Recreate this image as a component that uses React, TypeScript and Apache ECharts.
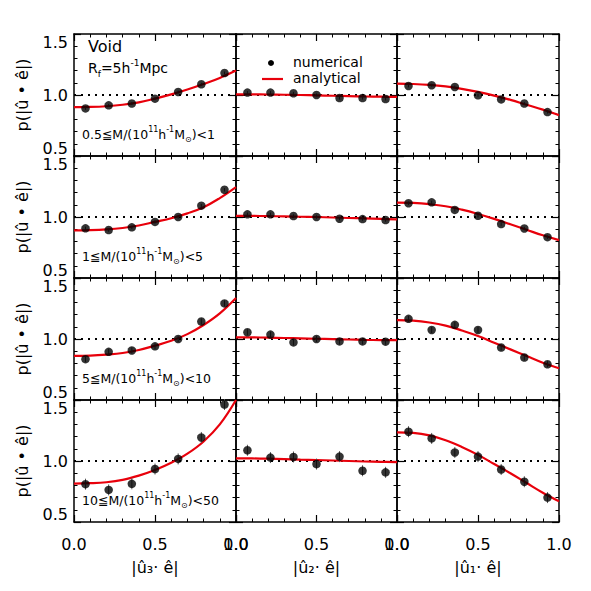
import React, { useEffect, useRef } from "react";
import * as echarts from "echarts";

// x positions of the numerical bins
const xBins = [0.071, 0.214, 0.357, 0.5, 0.643, 0.786, 0.929];
// x positions of the analytical curve samples
const xCurve = [0, 0.1, 0.2, 0.3, 0.4, 0.5, 0.6, 0.7, 0.8, 0.9, 1.0];

// Row 1 : 0.5 <= M < 1
const num1U3 = [0.89, 0.915, 0.93, 0.97, 1.025, 1.088, 1.18];
const ana1U3 = [0.9, 0.902, 0.908, 0.92, 0.94, 0.97, 1.005, 1.045, 1.09, 1.14, 1.2];
const num1U2 = [1.02, 1.02, 1.014, 1.0, 0.975, 0.975, 0.967];
const ana1U2 = [1.005, 1.005, 1.004, 1.002, 1.0, 0.997, 0.994, 0.991, 0.988, 0.986, 0.984];
const num1U1 = [1.074, 1.08, 1.066, 0.997, 0.964, 0.93, 0.86];
const ana1U1 = [1.093, 1.09, 1.083, 1.07, 1.05, 1.025, 0.995, 0.96, 0.92, 0.88, 0.835];
const err1 = [0.012, 0.012, 0.012, 0.012, 0.012, 0.012, 0.012];

// Row 2 : 1 <= M < 5
const num2U3 = [0.907, 0.893, 0.915, 0.96, 1.0, 1.093, 1.223];
const ana2U3 = [0.89, 0.892, 0.898, 0.91, 0.93, 0.96, 0.99, 1.03, 1.08, 1.155, 1.245];
const num2U2 = [1.022, 1.022, 1.008, 1.0, 0.986, 0.983, 0.975];
const ana2U2 = [1.01, 1.009, 1.007, 1.005, 1.002, 1.0, 0.996, 0.992, 0.988, 0.984, 0.98];
const num2U1 = [1.113, 1.12, 1.058, 1.01, 0.942, 0.906, 0.835];
const ana2U1 = [1.118, 1.115, 1.105, 1.088, 1.06, 1.025, 0.985, 0.94, 0.895, 0.85, 0.81];
const err2 = [0.014, 0.014, 0.014, 0.014, 0.014, 0.014, 0.014];

// Row 3 : 5 <= M < 10
const num3U3 = [0.835, 0.895, 0.906, 0.94, 1.0, 1.143, 1.292];
const ana3U3 = [0.862, 0.864, 0.872, 0.885, 0.91, 0.945, 0.985, 1.04, 1.115, 1.21, 1.336];
const num3U2 = [1.055, 1.036, 0.972, 1.0, 0.98, 0.98, 0.978];
const ana3U2 = [1.014, 1.013, 1.011, 1.008, 1.005, 1.002, 0.999, 0.996, 0.993, 0.991, 0.99];
const num3U1 = [1.165, 1.074, 1.116, 1.074, 0.93, 0.848, 0.793];
const ana3U1 = [1.154, 1.15, 1.135, 1.11, 1.07, 1.025, 0.97, 0.915, 0.86, 0.805, 0.76];
const err3 = [0.025, 0.025, 0.025, 0.025, 0.025, 0.025, 0.025];

// Row 4 : 10 <= M < 50
const num4U3 = [0.81, 0.763, 0.813, 0.934, 1.017, 1.193, 1.463];
const ana4U3 = [0.815, 0.818, 0.826, 0.845, 0.88, 0.926, 0.985, 1.06, 1.16, 1.3, 1.5];
const num4U2 = [1.088, 1.028, 1.033, 0.975, 1.036, 0.92, 0.907];
const ana4U2 = [1.022, 1.021, 1.019, 1.016, 1.012, 1.008, 1.004, 1.0, 0.996, 0.993, 0.99];
const num4U1 = [1.24, 1.185, 1.07, 1.036, 0.93, 0.83, 0.7];
const ana4U1 = [1.234, 1.23, 1.21, 1.17, 1.115, 1.05, 0.975, 0.9, 0.82, 0.74, 0.67];
const err4 = [0.045, 0.045, 0.045, 0.045, 0.045, 0.045, 0.045];

const massLow = ["0.5", "1", "5", "10"];
const massHigh = ["1", "5", "10", "50"];
const xTitles = ["|û₃· ê|", "|û₂· ê|", "|û₁· ê|"];
const yTitle = "p(|û • ê|)";
const xTickValues = [0, 0.5, 1];
const yRange = [0.5, 1.5];

const panels = [
  [
    { num: num1U3, ana: ana1U3, err: err1 },
    { num: num1U2, ana: ana1U2, err: err1 },
    { num: num1U1, ana: ana1U1, err: err1 },
  ],
  [
    { num: num2U3, ana: ana2U3, err: err2 },
    { num: num2U2, ana: ana2U2, err: err2 },
    { num: num2U1, ana: ana2U1, err: err2 },
  ],
  [
    { num: num3U3, ana: ana3U3, err: err3 },
    { num: num3U2, ana: ana3U2, err: err3 },
    { num: num3U1, ana: ana3U1, err: err3 },
  ],
  [
    { num: num4U3, ana: ana4U3, err: err4 },
    { num: num4U2, ana: ana4U2, err: err4 },
    { num: num4U1, ana: ana4U1, err: err4 },
  ],
];

const FONT = "DejaVu Sans";
const colLeft = [74, 236, 397];
const colWidth = [162, 161, 162];
const rowTop = [34, 156, 278, 400];
const rowHeight = 122;

export default function App() {
  const ref = useRef<HTMLDivElement>(null);

  useEffect(() => {
    if (!ref.current) return;
    const chart = echarts.init(ref.current, null, { renderer: "svg" });

    const grids: any[] = [];
    const xAxes: any[] = [];
    const yAxes: any[] = [];
    const series: any[] = [];
    const graphics: any[] = [];

    const axisLineStyle = { color: "#000", width: 1.5 };
    let gi = 0;
    for (let r = 0; r < 4; r++) {
      for (let c = 0; c < 3; c++) {
        grids.push({
          left: colLeft[c],
          top: rowTop[r],
          width: colWidth[c],
          height: rowHeight,
        });
        const xBase = {
          type: "value",
          gridIndex: gi,
          min: xTickValues[0],
          max: xTickValues[2],
          interval: 0.5,
          axisLine: { show: true, onZero: false, lineStyle: axisLineStyle },
          axisTick: { show: true, inside: true, length: 7, lineStyle: { color: "#000", width: 1.2 } },
          minorTick: { show: true, splitNumber: 5, length: 3.5, lineStyle: { color: "#000", width: 1 } },
          splitLine: { show: false },
          minorSplitLine: { show: false },
        };
        xAxes.push({
          ...xBase,
          position: "bottom",
          axisLabel: {
            show: r === 3,
            fontFamily: FONT,
            fontSize: 16,
            color: "#000",
            margin: 14,
            showMinLabel: true,
            showMaxLabel: true,
            hideOverlap: false,
            formatter: (v: number) => v.toFixed(1),
          },
        });
        xAxes.push({ ...xBase, position: "top", axisLabel: { show: false } });
        const yBase = {
          type: "value",
          gridIndex: gi,
          min: yRange[0],
          max: yRange[1],
          interval: 0.5,
          axisLine: { show: true, onZero: false, lineStyle: axisLineStyle },
          axisTick: { show: true, inside: true, length: 7, lineStyle: { color: "#000", width: 1.2 } },
          minorTick: { show: true, splitNumber: 5, length: 3.5, lineStyle: { color: "#000", width: 1 } },
          splitLine: { show: false },
          minorSplitLine: { show: false },
        };
        yAxes.push({
          ...yBase,
          position: "left",
          axisLabel: {
            show: c === 0,
            fontFamily: FONT,
            fontSize: 16,
            color: "#000",
            margin: 6,
            showMinLabel: true,
            showMaxLabel: true,
            verticalAlignMinLabel: "bottom",
            verticalAlignMaxLabel: "top",
            formatter: (v: number) => v.toFixed(1),
          },
        });
        yAxes.push({ ...yBase, position: "right", axisLabel: { show: false } });

        const p = panels[r][c];
        const xi = gi * 2;
        const yi = gi * 2;
        // dotted reference line at 1
        series.push({
          type: "line",
          xAxisIndex: xi,
          yAxisIndex: yi,
          data: [
            [xTickValues[0], 1],
            [xTickValues[2], 1],
          ],
          symbol: "none",
          lineStyle: { color: "#000", width: 2, type: [2, 5] },
          silent: true,
          z: 1,
        });
        // analytical curve
        series.push({
          type: "line",
          xAxisIndex: xi,
          yAxisIndex: yi,
          data: xCurve.map((x, k) => [x, p.ana[k]]),
          symbol: "none",
          smooth: 0.4,
          clip: true,
          lineStyle: { color: "#e8000b", width: 2.2 },
          z: 2,
        });
        // error bars
        series.push({
          type: "custom",
          xAxisIndex: xi,
          yAxisIndex: yi,
          data: xBins.map((x, k) => [x, p.num[k], p.err[k]]),
          renderItem: (params: any, api: any) => {
            const x = api.value(0);
            const y = api.value(1);
            const e = api.value(2);
            const a = api.coord([x, y - e]);
            const b = api.coord([x, y + e]);
            return {
              type: "line",
              shape: { x1: a[0], y1: a[1], x2: b[0], y2: b[1] },
              style: { stroke: "#555", lineWidth: 1 },
            };
          },
          z: 3,
        });
        // numerical points
        series.push({
          type: "scatter",
          xAxisIndex: xi,
          yAxisIndex: yi,
          data: xBins.map((x, k) => [x, p.num[k]]),
          symbol: "circle",
          symbolSize: 8.5,
          itemStyle: { color: "#000" },
          z: 4,
        });
        gi++;
      }
    }

    // mass-bin labels
    const richStyles = {
      a: { fontFamily: FONT, fontSize: 12.5, color: "#000", lineHeight: 18 },
      s: { fontFamily: FONT, fontSize: 8, color: "#000", verticalAlign: "top", lineHeight: 10 },
      b: { fontFamily: FONT, fontSize: 8, color: "#000", verticalAlign: "bottom", lineHeight: 10 },
    };
    for (let r = 0; r < 4; r++) {
      graphics.push({
        type: "text",
        left: 82,
        top: rowTop[r] + 91,
        style: {
          text: `{a|${massLow[r]}≦M/(10}{s|11}{a|h}{s|-1}{a|M}{b|⊙}{a|)<${massHigh[r]}}`,
          rich: richStyles,
        },
      });
      // y-axis title
      graphics.push({
        type: "text",
        x: 22,
        y: rowTop[r] + rowHeight / 2,
        rotation: Math.PI / 2,
        style: {
          text: yTitle,
          fontFamily: FONT,
          fontSize: 16,
          fill: "#000",
          align: "center",
          verticalAlign: "middle",
        },
      });
    }
    // x-axis titles
    for (let c = 0; c < 3; c++) {
      graphics.push({
        type: "text",
        x: colLeft[c] + colWidth[c] / 2,
        y: 567,
        style: {
          text: xTitles[c],
          fontFamily: FONT,
          fontSize: 16,
          fill: "#000",
          align: "center",
          verticalAlign: "middle",
        },
      });
    }
    // Void and R_f labels
    graphics.push({
      type: "text",
      x: 88,
      y: 46,
      style: { text: "Void", fontFamily: FONT, fontSize: 16, fill: "#000", verticalAlign: "middle" },
    });
    graphics.push({
      type: "text",
      left: 88,
      top: 58,
      style: {
        text: "{a|R}{b|f}{a|=5h}{s|-1}{a|Mpc}",
        rich: {
          a: { fontFamily: FONT, fontSize: 14, color: "#000", lineHeight: 20 },
          s: { fontFamily: FONT, fontSize: 9, color: "#000", verticalAlign: "top", lineHeight: 11 },
          b: { fontFamily: FONT, fontSize: 9, color: "#000", verticalAlign: "bottom", lineHeight: 11 },
        },
      },
    });
    // legend
    graphics.push({
      type: "circle",
      shape: { cx: 271, cy: 63, r: 3 },
      style: { fill: "#000" },
    });
    graphics.push({
      type: "text",
      x: 293,
      y: 62,
      style: { text: "numerical", fontFamily: FONT, fontSize: 14, fill: "#000", verticalAlign: "middle" },
    });
    graphics.push({
      type: "line",
      shape: { x1: 262, y1: 79, x2: 283, y2: 79 },
      style: { stroke: "#e8000b", lineWidth: 2.2 },
    });
    graphics.push({
      type: "text",
      x: 293,
      y: 78,
      style: { text: "analytical", fontFamily: FONT, fontSize: 14, fill: "#000", verticalAlign: "middle" },
    });

    chart.setOption({
      animation: false,
      backgroundColor: "#fff",
      grid: grids,
      xAxis: xAxes,
      yAxis: yAxes,
      series,
      graphic: graphics,
    });
    return () => chart.dispose();
  }, []);

  return (
    <div
      ref={ref}
      style={{ position: "fixed", left: 0, top: 0, width: 591, height: 591, background: "#fff" }}
    />
  );
}
